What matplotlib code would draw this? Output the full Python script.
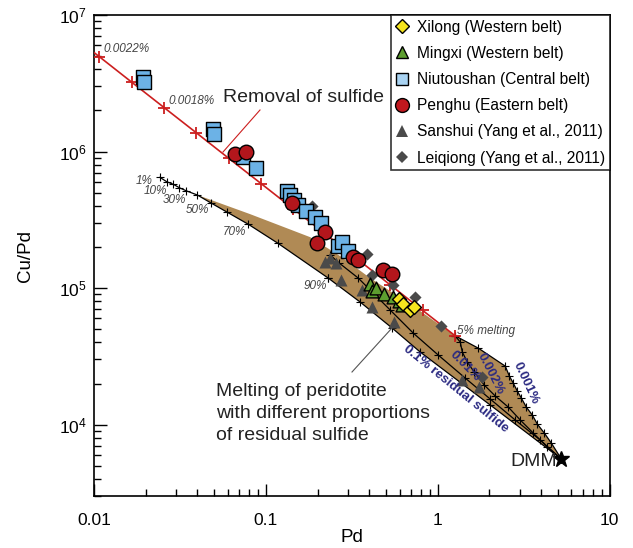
import matplotlib
matplotlib.use("Agg")
import matplotlib.pyplot as plt
from matplotlib.lines import Line2D

plt.rcParams.update({
    "font.family": ["Liberation Sans", "DejaVu Sans"],
    "mathtext.fontset": "custom",
    "mathtext.rm": "Liberation Sans",
})

W, H = 633, 548

# ---- data ----
# sulfide removal line (red), 5% melt -> removal of sulfide
removal_pd = [0.0100, 0.01074, 0.01658, 0.02557, 0.03942, 0.06078, 0.09376,
              0.1446, 0.2230, 0.3439, 0.5303, 0.8178, 1.261]
removal_cupd = [5.31e6, 4.95e6, 3.22e6, 2.10e6, 1.371e6, 8.93e5, 5.83e5,
                3.80e5, 2.48e5, 1.615e5, 1.054e5, 6.86e4, 4.48e4]

# melting curve after sulfide exhaustion (1% .. 90%)
main_pd = [0.0242, 0.0265, 0.0290, 0.0314, 0.0344, 0.0400, 0.0478, 0.0597,
           0.0792, 0.1175, 0.2315]
main_cupd = [6.47e5, 6.01e5, 5.75e5, 5.43e5, 5.16e5, 4.80e5, 4.21e5, 3.59e5,
             2.93e5, 2.13e5, 1.18e5]

# residual sulfide curves, ending at DMM
s01_pd = [0.2315, 0.354, 0.544, 0.7914, 2.025, 5.25]
s01_cupd = [1.18e5, 7.90e4, 5.09e4, 3.40e4, 1.39e4, 5.59e3]

s001_pd = [0.2369, 0.2673, 0.3449, 0.5297, 0.7209, 1.008, 1.448, 2.025, 2.831,
           3.958, 5.25]
s001_cupd = [1.745e5, 1.525e5, 1.184e5, 6.90e4, 4.68e4, 3.23e4, 2.19e4,
             1.537e4, 1.079e4, 7.70e3, 5.59e3]

s0002_pd = [1.261, 1.354, 1.391, 1.488, 1.634, 1.868, 2.165, 2.577, 3.028,
            3.605, 4.349, 5.25]
s0002_cupd = [4.48e4, 4.02e4, 3.40e4, 2.87e4, 2.42e4, 1.947e4, 1.618e4,
              1.343e4, 1.079e4, 8.66e3, 6.84e3, 5.59e3]

s0001_pd = [1.261, 1.724, 2.475, 2.612, 2.756, 2.908, 3.068, 3.281, 3.556,
            3.802, 4.178, 4.587, 5.25]
s0001_cupd = [4.48e4, 3.63e4, 2.68e4, 2.27e4, 2.01e4, 1.76e4, 1.564e4,
              1.343e4, 1.174e4, 1.009e4, 8.66e3, 7.32e3, 5.59e3]

# upper edge of the melting field (50% point to 5% melting)
field_top_pd = [0.0400, 0.0810, 0.1811, 0.2708, 0.4051, 0.7209, 1.261]
field_top_cupd = [4.80e5, 3.48e5, 2.36e5, 1.715e5, 1.184e5, 7.38e4, 4.48e4]

dmm_pd, dmm_cupd = 5.25, 5.59e3

# samples
xilong_pd = [0.5974, 0.6303, 0.6924, 0.7306]
xilong_cupd = [8.31e4, 7.64e4, 6.90e4, 7.26e4]

mingxi_pd = [0.4051, 0.4161, 0.4389, 0.4887, 0.5513, 0.5974, 0.6221]
mingxi_cupd = [1.070e5, 9.51e4, 1.00e5, 9.04e4, 8.59e4, 8.03e4, 7.51e4]

niu_pd = [0.01929, 0.01956, 0.04932, 0.0500, 0.0737, 0.0878, 0.1330, 0.1385,
          0.1462, 0.1542, 0.1717, 0.1937, 0.2099, 0.2637, 0.2782, 0.3015]
niu_cupd = [3.51e6, 3.23e6, 1.462e6, 1.344e6, 9.11e5, 7.57e5, 5.13e5, 4.80e5,
            4.41e5, 4.06e5, 3.67e5, 3.31e5, 2.99e5, 2.03e5, 2.17e5, 1.866e5]

penghu_pd = [0.0663, 0.0768, 0.1423, 0.2215, 0.1990, 0.3224, 0.3449, 0.4822, 0.5440]
penghu_cupd = [9.59e5, 9.92e5, 4.19e5, 2.57e5, 2.14e5, 1.687e5, 1.604e5,
               1.355e5, 1.267e5]

sanshui_pd = [0.2215, 0.2369, 0.2568, 0.2745, 0.3638, 0.4161, 0.5588, 1.391, 1.747]
sanshui_cupd = [1.55e5, 1.659e5, 1.525e5, 1.145e5, 9.67e4, 7.26e4, 5.63e4,
                2.12e4, 1.882e4]

leiqiong_pd = [0.1861, 0.3890, 0.4161, 0.5513, 0.7406, 1.050, 1.818]
leiqiong_cupd = [3.99e5, 1.775e5, 1.245e5, 1.052e5, 8.59e4, 5.27e4, 2.23e4]

# ---- figure ----
fig = plt.figure(figsize=(W / 100, H / 100), dpi=100)
ax = fig.add_axes([94 / W, 1 - 496 / H, (609.5 - 94) / W, (496 - 15) / H])
ax.set_xscale("log")
ax.set_yscale("log")
ax.set_xlim(0.01, 10)
ax.set_ylim(3.0e3, 1e7)

BROWN = "#b08a55"
NAVY = "#2b2a82"
LABEL = "#444444"
RED = "#cc1f1f"
GRAY = "#4a4a4a"

# melting field
poly_x = field_top_pd + s0001_pd[1:] + s01_pd[::-1][1:] + main_pd[5:][::-1][1:]
poly_y = field_top_cupd + s0001_cupd[1:] + s01_cupd[::-1][1:] + main_cupd[5:][::-1][1:]
ax.fill(poly_x, poly_y, color=BROWN, lw=0, zorder=1)

mk = dict(color="black", lw=0.9, marker="+", ms=6, mew=0.8, zorder=3)
for xs, ys in [(main_pd, main_cupd), (s01_pd, s01_cupd), (s001_pd, s001_cupd),
               (s0002_pd, s0002_cupd), (s0001_pd, s0001_cupd)]:
    ax.plot(xs, ys, **mk)

ax.plot(removal_pd, removal_cupd, color=RED, lw=1.2, zorder=4)
ax.plot(removal_pd[1:], removal_cupd[1:], ls="none", marker="+", ms=9, mew=1.3,
        color=RED, zorder=4)
ax.plot([dmm_pd], [dmm_cupd], marker="*", ms=12, color="black", zorder=6)

ax.scatter(sanshui_pd, sanshui_cupd, marker="^", s=75, color=GRAY, lw=0, zorder=5)
ax.scatter(leiqiong_pd, leiqiong_cupd, marker="D", s=38, color=GRAY, lw=0, zorder=5)
ax.scatter(niu_pd, niu_cupd, marker="s", s=95, color="#6cb2e6", edgecolor="black",
           lw=1.0, zorder=6)
ax.scatter(penghu_pd, penghu_cupd, marker="o", s=110, color="#b3161c",
           edgecolor="black", lw=1.0, zorder=7)
ax.scatter(mingxi_pd, mingxi_cupd, marker="^", s=85, color="#5d9e2f",
           edgecolor="black", lw=1.0, zorder=8)
ax.scatter(xilong_pd, xilong_cupd, marker="D", s=50, color="#f5e41e",
           edgecolor="black", lw=1.0, zorder=9)

# axes style
ax.tick_params(which="both", direction="in", top=False, right=False,
               labelsize=12.5, width=1.0)
ax.tick_params(which="major", length=9)
ax.tick_params(which="minor", length=5)
ax.tick_params(axis="x", pad=12)
ax.tick_params(axis="y", pad=5)
ax.set_xticks([0.01, 0.1, 1, 10])
ax.set_xticklabels(["0.01", "0.1", "1", "10"])
for s in ax.spines.values():
    s.set_linewidth(1.2)
ax.set_xlabel("Pd", fontsize=13.5, va="center")
ax.xaxis.set_label_coords(0.5, -(537 - 496) / 481)
ax.set_ylabel("Cu/Pd", fontsize=13.5, labelpad=18)

# legend
handles = [
    Line2D([], [], ls="none", marker="D", ms=7, mfc="#f5e41e", mec="black", mew=1.0),
    Line2D([], [], ls="none", marker="^", ms=9, mfc="#5d9e2f", mec="black", mew=1.0),
    Line2D([], [], ls="none", marker="s", ms=9, mfc="#a9d3f2", mec="black", mew=1.0),
    Line2D([], [], ls="none", marker="o", ms=10, mfc="#c0181e", mec="black", mew=1.0),
    Line2D([], [], ls="none", marker="^", ms=8, mfc=GRAY, mec=GRAY, mew=0),
    Line2D([], [], ls="none", marker="D", ms=6, mfc=GRAY, mec=GRAY, mew=0),
]
labels = ["Xilong (Western belt)", "Mingxi (Western belt)",
          "Niutoushan (Central belt)", "Penghu (Eastern belt)",
          "Sanshui (Yang et al., 2011)", "Leiqiong (Yang et al., 2011)"]
leg = ax.legend(handles, labels, loc="upper right", bbox_to_anchor=(1, 1),
                borderaxespad=0, fontsize=11.2, frameon=True, fancybox=False,
                handlelength=0.8, handletextpad=0.55, labelspacing=0.72,
                borderpad=0.3)
leg.get_frame().set_edgecolor("black")
leg.get_frame().set_linewidth(1.2)


def ftext(px, py, s, **kw):
    fig.text(px / W, 1 - py / H, s, **kw)


def fline(x1, y1, x2, y2, **kw):
    fig.add_artist(Line2D([x1 / W, x2 / W], [1 - y1 / H, 1 - y2 / H],
                          transform=fig.transFigure, **kw))


it = dict(fontsize=8.5, style="italic", color=LABEL, va="center")
ftext(103, 49, "0.0022%", ha="left", **it)
ftext(168, 101, "0.0018%", ha="left", **it)
ftext(153, 181, "1%", ha="right", **it)
ftext(167, 191, "10%", ha="right", **it)
ftext(186, 200, "30%", ha="right", **it)
ftext(209, 210, "50%", ha="right", **it)
ftext(246, 232, "70%", ha="right", **it)
ftext(327, 286, "90%", ha="right", **it)
ftext(457, 331, "5% melting", ha="left", **it)

ftext(223, 98, "Removal of sulfide", fontsize=14, ha="left", va="center",
      color="#222222")
fline(260, 110, 223, 152, color=RED, lw=0.8)
ftext(216, 383, "Melting of peridotite\nwith different proportions\nof residual sulfide",
      fontsize=14, ha="left", va="top", color="#222222", linespacing=1.38)
fline(352, 372, 392, 328, color="#555555", lw=0.8)
ftext(557, 461, "DMM", fontsize=14, ha="right", va="center", color="#222222")

bl = dict(fontsize=9.5, fontweight="bold", color=NAVY, ha="center", va="center",
          rotation_mode="anchor")
ftext(456, 389, "0.1% residual sulfide", rotation=-39, **bl)
ftext(465, 366, "0.01%", rotation=-45, **bl)
ftext(490, 374, "0.002%", rotation=-63, **bl)
ftext(526, 383, "0.001%", rotation=-65, **bl)

fig.savefig("out.png", dpi=100)
